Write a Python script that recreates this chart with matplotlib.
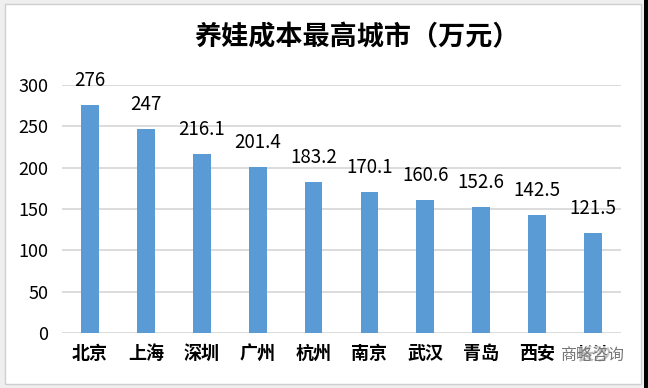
import matplotlib
matplotlib.use("Agg")
import matplotlib.pyplot as plt
from matplotlib.patches import Rectangle

plt.rcParams['font.family'] = ['Noto Sans CJK SC', 'DejaVu Sans']

cities = ['北京', '上海', '深圳', '广州', '杭州', '南京', '武汉', '青岛', '西安', '长沙']
costs = [276, 247, 216.1, 201.4, 183.2, 170.1, 160.6, 152.6, 142.5, 121.5]
cost_labels = ['276', '247', '216.1', '201.4', '183.2', '170.1', '160.6', '152.6', '142.5', '121.5']
yticks = [0, 50, 100, 150, 200, 250, 300]

fig = plt.figure(figsize=(6.48, 3.88), dpi=100)
fig.patch.set_facecolor('white')

# outer frame of the screenshot
fig.patches.append(Rectangle((0, 0), 1, 1, transform=fig.transFigure,
                             facecolor='#efefef', edgecolor='none', zorder=-3))
fig.patches.append(Rectangle((5 / 648, 4 / 388), 636 / 648, 380 / 388, transform=fig.transFigure,
                             facecolor='white', edgecolor='#cfcfcf', linewidth=1.0, zorder=-2))
fig.patches.append(Rectangle((644 / 648, 0), 4 / 648, 1, transform=fig.transFigure,
                             facecolor='black', edgecolor='none', zorder=-1))

ax = fig.add_axes([62 / 648, 55 / 388, 559 / 648, 248 / 388])
ax.set_facecolor('none')

x = range(len(cities))
ax.bar(x, costs, width=0.32, color='#5B9BD5', zorder=3)

for i, (v, lab) in enumerate(zip(costs, cost_labels)):
    ax.annotate(lab, (i, v), xytext=(0, 10), textcoords='offset points',
                ha='center', va='bottom', fontsize=13.5, color='black')

ax.set_xlim(-0.5, len(cities) - 0.5)
ax.set_ylim(0, 300)
ax.set_yticks(yticks)
ax.set_yticklabels([str(t) for t in yticks], fontsize=13)
ax.set_xticks(list(x))
ax.set_xticklabels(cities, fontsize=13, fontweight='bold')
ax.tick_params(axis='x', length=0, pad=8)
ax.tick_params(axis='y', length=0, pad=10)

ax.yaxis.grid(True, color='#d9d9d9', linewidth=1.3, zorder=0)
for s in ax.spines.values():
    s.set_visible(False)

fig.text(357 / 648, 1 - 37 / 388, '养娃成本最高城市（万元）', ha='center', va='center',
         fontsize=19.5, fontweight='bold')

# watermark over the last label
fig.text(592 / 648, 1 - 355 / 388, '商略咨询', ha='center', va='center', fontsize=11.5,
         color='#777777', bbox=dict(facecolor='white', edgecolor='none', alpha=0.75, pad=0.5))

fig.savefig('out.png', dpi=100, facecolor=fig.get_facecolor())
